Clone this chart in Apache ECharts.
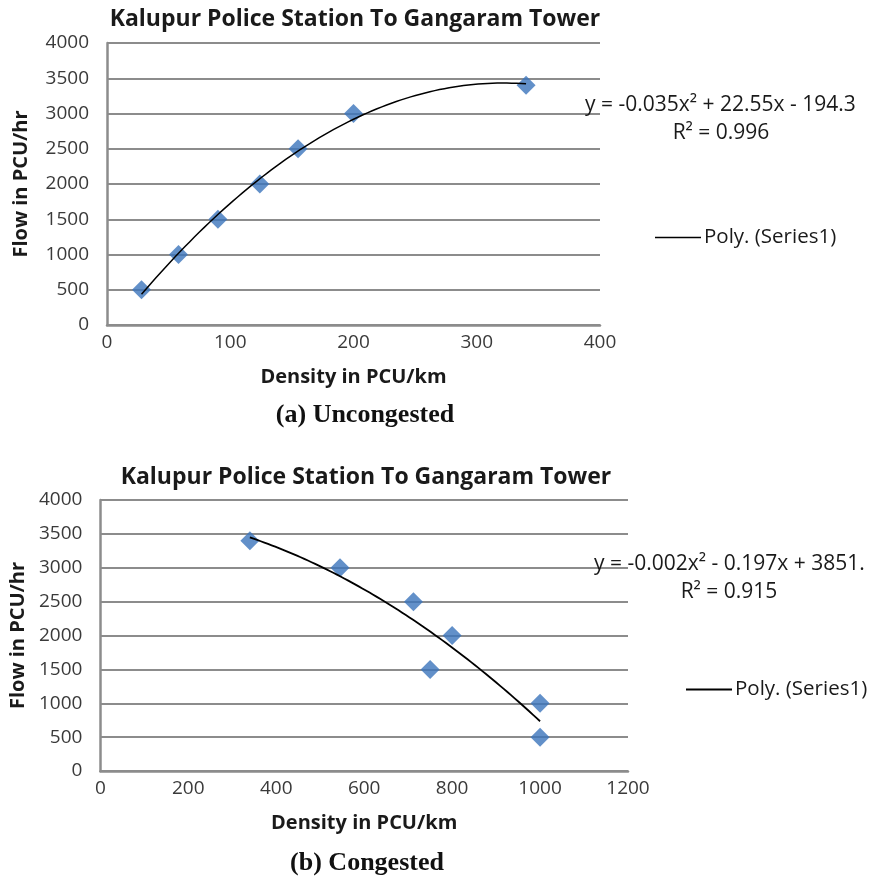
<!DOCTYPE html>
<html>
<head>
<meta charset="utf-8">
<script src="https://cdn.jsdelivr.net/npm/echarts@6/dist/echarts.min.js"></script>
<style>
  html, body { margin: 0; padding: 0; background: #fff; }
  #chart { width: 873px; height: 882px; }
</style>
</head>
<body>
<div id="chart"></div>
<script>
// Uncongested regime: density (PCU/km) vs flow (PCU/hr)
const uncongDensity = [28, 58, 90, 124, 155, 200, 340];
const uncongFlow    = [500, 1000, 1500, 2000, 2500, 3000, 3400];
// Congested regime
const congDensity = [340, 545, 712, 750, 800, 1000, 1000];
const congFlow    = [3400, 3000, 2500, 1500, 2000, 1000, 500];

const titleText = 'Kalupur Police Station To Gangaram Tower';
const uncongEquation = ['y = -0.035x² + 22.55x - 194.3', 'R² = 0.996'];
const congEquation   = ['y = -0.002x² - 0.197x + 3851.', 'R² = 0.915'];
const trendName = 'Poly. (Series1)';
const captions = ['(a) Uncongested', '(b) Congested'];

// Least-squares quadratic fit (order-2 polynomial trendline)
function quadFit(xs, ys) {
  const n = xs.length;
  const s = [0, 0, 0, 0, 0], t = [0, 0, 0];
  for (let i = 0; i < n; i++) {
    const x = xs[i], y = ys[i];
    for (let k = 0; k <= 4; k++) s[k] += Math.pow(x, k);
    for (let k = 0; k <= 2; k++) t[k] += Math.pow(x, k) * y;
  }
  const M = [[s[0], s[1], s[2], t[0]], [s[1], s[2], s[3], t[1]], [s[2], s[3], s[4], t[2]]];
  for (let i = 0; i < 3; i++) {
    let p = i;
    for (let r = i + 1; r < 3; r++) if (Math.abs(M[r][i]) > Math.abs(M[p][i])) p = r;
    [M[i], M[p]] = [M[p], M[i]];
    for (let r = 0; r < 3; r++) {
      if (r === i) continue;
      const f = M[r][i] / M[i][i];
      for (let c = i; c < 4; c++) M[r][c] -= f * M[i][c];
    }
  }
  const c = M[0][3] / M[0][0], b = M[1][3] / M[1][1], a = M[2][3] / M[2][2];
  return x => a * x * x + b * x + c;
}

function trendPoints(xs, ys) {
  const f = quadFit(xs, ys);
  const lo = Math.min(...xs), hi = Math.max(...xs);
  const pts = [];
  const steps = 80;
  for (let i = 0; i <= steps; i++) {
    const x = lo + (hi - lo) * i / steps;
    pts.push([x, f(x)]);
  }
  return pts;
}

const zip = (xs, ys) => xs.map((x, i) => [x, ys[i]]);

const sansFont = '"Open Sans", "Noto Sans", sans-serif';
const serifFont = '"Liberation Serif", "DejaVu Serif", serif';
const axisLabelStyle = { color: '#3a3a3a', fontSize: 19, fontFamily: sansFont };
const axisNameStyle = { color: '#1a1a1a', fontSize: 20, fontWeight: 'bold', fontFamily: sansFont };
const gridLine = { show: true, lineStyle: { color: '#8c8c8c', width: 2 } };
const axisLineStyle = { show: true, lineStyle: { color: '#8c8c8c', width: 2.5 } };
const plainNumber = v => String(v);

function xAxisDef(gridIndex, max, interval) {
  return {
    type: 'value', gridIndex, min: 0, max, interval,
    axisLine: axisLineStyle, axisTick: { show: false }, splitLine: { show: false },
    axisLabel: Object.assign({ margin: 8, formatter: plainNumber }, axisLabelStyle),
    name: 'Density in PCU/km', nameLocation: 'middle', nameGap: 42, nameTextStyle: axisNameStyle
  };
}
function yAxisDef(gridIndex, nameGap) {
  return {
    type: 'value', gridIndex, min: 0, max: 4000, interval: 500,
    axisLine: axisLineStyle, axisTick: { show: false }, splitLine: gridLine,
    axisLabel: Object.assign({ margin: 18, formatter: plainNumber }, axisLabelStyle),
    name: 'Flow in PCU/hr', nameLocation: 'middle', nameGap, nameTextStyle: axisNameStyle
  };
}

const markerStyle = { color: '#3b74bb' };
const textStyle = (extra) => Object.assign({ fontSize: 21, fill: '#1a1a1a', fontFamily: sansFont, verticalAlign: 'middle' }, extra);
const legendText = { fontSize: 20.5, color: '#1a1a1a', fontFamily: sansFont, padding: [0, 0, 0, -2] };

const chart = echarts.init(document.getElementById('chart'), null, { renderer: 'canvas' });
chart.setOption({
  backgroundColor: '#ffffff',
  animation: false,
  title: [
    { text: titleText, left: 350, top: 3, textAlign: 'center',
      textStyle: { fontSize: 23, fontWeight: 'bold', color: '#1a1a1a', fontFamily: sansFont } },
    { text: titleText, left: 361, top: 461, textAlign: 'center',
      textStyle: { fontSize: 23, fontWeight: 'bold', color: '#1a1a1a', fontFamily: sansFont } }
  ],
  grid: [
    { left: 107, top: 43, width: 493, height: 282 },
    { left: 97, top: 500, width: 531, height: 271 }
  ],
  xAxis: [xAxisDef(0, 400, 100), xAxisDef(1, 1200, 200)],
  yAxis: [yAxisDef(0, 76), yAxisDef(1, 70)],
  legend: [
    { data: [trendName], left: 655, top: 227, icon: 'rect', itemWidth: 46, itemHeight: 1.5, itemGap: 3,
      padding: 0, textStyle: legendText },
    { data: [trendName], left: 686, top: 679, icon: 'rect', itemWidth: 46, itemHeight: 2, itemGap: 3,
      padding: 0, textStyle: legendText }
  ],
  series: [
    { name: 'Series1', type: 'scatter', xAxisIndex: 0, yAxisIndex: 0, symbol: 'diamond', symbolSize: 19,
      itemStyle: markerStyle, data: zip(uncongDensity, uncongFlow), z: 3 },
    { name: trendName, type: 'line', xAxisIndex: 0, yAxisIndex: 0, showSymbol: false, symbol: 'none',
      lineStyle: { color: '#000', width: 1.5 }, itemStyle: { color: '#000' },
      data: trendPoints(uncongDensity, uncongFlow), z: 4 },
    { name: 'Series1', type: 'scatter', xAxisIndex: 1, yAxisIndex: 1, symbol: 'diamond', symbolSize: 19,
      itemStyle: markerStyle, data: zip(congDensity, congFlow), z: 3 },
    { name: trendName, type: 'line', xAxisIndex: 1, yAxisIndex: 1, showSymbol: false, symbol: 'none',
      lineStyle: { color: '#000', width: 1.8 }, itemStyle: { color: '#000' },
      data: trendPoints(congDensity, congFlow), z: 4 }
  ],
  graphic: [
    { type: 'text', x: 585, y: 105, z: 51, style: textStyle({ text: uncongEquation[0] }) },
    { type: 'text', x: 721, y: 133, z: 51, style: textStyle({ text: uncongEquation[1], align: 'center' }) },
    { type: 'text', x: 594, y: 564, z: 51, style: textStyle({ text: congEquation[0] }) },
    { type: 'text', x: 729, y: 592, z: 51, style: textStyle({ text: congEquation[1], align: 'center' }) },
    { type: 'text', x: 365, y: 415, z: 51,
      style: { text: captions[0], fontSize: 26, fontWeight: 'bold', fill: '#111', fontFamily: serifFont,
               align: 'center', verticalAlign: 'middle' } },
    { type: 'text', x: 367, y: 863, z: 51,
      style: { text: captions[1], fontSize: 26, fontWeight: 'bold', fill: '#111', fontFamily: serifFont,
               align: 'center', verticalAlign: 'middle' } }
  ]
});
</script>
</body>
</html>
